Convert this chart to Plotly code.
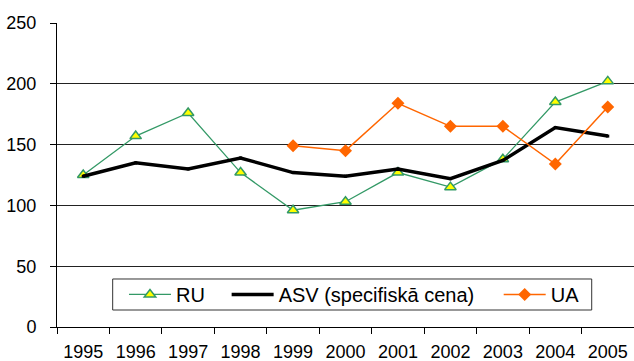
import plotly.graph_objects as go

years = ["1995", "1996", "1997", "1998", "1999", "2000", "2001", "2002", "2003", "2004", "2005"]
ru = [125, 157, 176, 127, 96, 103, 127, 115, 138, 185, 202]
asv = [124, 135, 130, 139, 127, 124, 130, 122, 137, 164, 157]
ua = [None, None, None, None, 149, 145, 184, 165, 165, 134, 181]
y_ticks = [0, 50, 100, 150, 200, 250]

FONT = "Liberation Sans, Arial, sans-serif"

fig = go.Figure()
fig.add_trace(go.Scatter(
    x=years, y=ru, name="RU", mode="lines+markers", legend="legend",
    line=dict(color="#339966", width=1.3),
    marker=dict(symbol="triangle-up", size=10, color="#FFFF00",
                line=dict(color="#339966", width=1.5)),
))
fig.add_trace(go.Scatter(
    x=years, y=asv, name="ASV (specifiskā cena)", mode="lines+markers", legend="legend2",
    line=dict(color="#000000", width=3.5),
    marker=dict(symbol="square", size=3, color="#000000"),
))
fig.add_trace(go.Scatter(
    x=years, y=ua, name="UA", mode="lines+markers", legend="legend3",
    line=dict(color="#FF6600", width=1.5),
    marker=dict(symbol="diamond", size=10, color="#FF6600"),
))

legend_common = dict(
    orientation="h", xanchor="left", yanchor="middle", y=0.107,
    borderwidth=0, bgcolor="rgba(0,0,0,0)", font=dict(family=FONT, size=20),
    itemwidth=42,
)

fig.update_layout(
    width=634, height=361,
    margin=dict(l=57, r=0, t=23, b=34),
    paper_bgcolor="white", plot_bgcolor="white",
    font=dict(family=FONT, size=18, color="black"),
    showlegend=True,
    legend=dict(legend_common, x=0.1161),
    legend2=dict(legend_common, x=0.2940),
    legend3=dict(legend_common, x=0.7655),
    shapes=[dict(
        type="rect", xref="paper", yref="paper",
        x0=0.0965, x1=0.9267, y0=0.0559, y1=0.1579,
        line=dict(color="#333333", width=1), fillcolor="white", layer="above",
    )],
    xaxis=dict(
        type="category", categoryorder="array", categoryarray=years,
        range=[-0.5, len(years) - 0.5],
        showline=True, linecolor="black", linewidth=1,
        ticks="outside", tickson="boundaries", ticklen=6, tickcolor="black",
        showgrid=False, ticklabelstandoff=8, automargin=False,
    ),
    yaxis=dict(
        range=[0, 250], tickvals=y_ticks,
        showline=True, linecolor="black", linewidth=1,
        ticks="outside", ticklen=6, tickcolor="black",
        showgrid=True, gridcolor="#222222", gridwidth=1,
        zeroline=False, ticklabelstandoff=10, automargin=False,
    ),
)

fig.write_html("out.html")
